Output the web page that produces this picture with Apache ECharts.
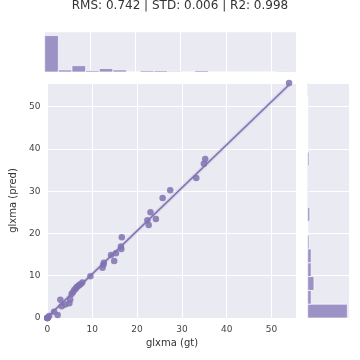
<!DOCTYPE html>
<html>
<head>
<meta charset="utf-8">
<script src="https://cdn.jsdelivr.net/npm/echarts@6/dist/echarts.min.js"></script>
<style>
  html, body { margin: 0; padding: 0; background: #fff; }
  #main { width: 360px; height: 360px; }
</style>
</head>
<body>
<div id="main"></div>
<script>
// scatter values (gt vs pred)
const gtVals = [0.0, 0.0, 0.0, 0.0, 0.1, 0.4, 1.5, 2.3, 2.9, 3.2, 4.0, 4.9, 5.1, 5.4, 5.7, 6.0, 6.3, 6.5, 6.8, 7.1, 7.4, 7.8, 9.6, 12.3, 12.5, 12.6, 14.2, 14.9, 15.3, 16.4, 16.5, 16.6, 22.3, 22.6, 23.0, 24.2, 25.7, 27.4, 33.2, 34.9, 35.2, 53.9]
const predVals = [0.0, 0.0, 0.0, 0.0, 0.1, 0.5, 1.5, 0.7, 4.3, 2.8, 3.2, 3.5, 4.4, 5.7, 6.1, 6.6, 6.9, 7.3, 7.5, 7.8, 8.0, 8.4, 9.9, 11.9, 12.6, 13.1, 14.9, 13.5, 15.3, 16.9, 16.3, 19.1, 23.1, 22.0, 25.0, 23.4, 28.4, 30.2, 33.1, 36.5, 37.6, 55.6]

// marginal histogram counts
const topBinStart = 0
const topBinWidth = 3.011
const topCounts = [52, 3, 9, 2, 5, 3, 0, 2, 2, 1, 0, 2, 0, 0, 0, 0, 0, 1]
const rightBinStart = 0
const rightBinWidth = 3.27
const rightCounts = [57, 5, 9, 5, 5, 2, 0, 3, 1, 1, 1, 2, 0, 0, 0, 0, 1]

// fitted line
const fitSlope = 1.02
const fitIntercept = 0.2

const axisMax = 55.6
const tickStep = 10
const title = 'RMS: 0.742 | STD: 0.006 | R2: 0.998'

const purple = '#8172b2'
const barColor = '#9c92c5'
const bg = '#eaeaf2'
const textColor = '#333'

const points = gtVals.map((v, i) => [v, predVals[i]])
const xLo = Math.min(...gtVals)
const xHi = Math.max(...gtVals)
const fitLine = [[xLo, fitSlope * xLo + fitIntercept], [xHi, fitSlope * xHi + fitIntercept]]

const topBins = topCounts.map((c, i) => [topBinStart + i * topBinWidth, topBinStart + (i + 1) * topBinWidth, c])
const rightBins = rightCounts.map((c, i) => [rightBinStart + i * rightBinWidth, rightBinStart + (i + 1) * rightBinWidth, c])

const labelStyle = { color: '#444', fontSize: 9, fontFamily: 'DejaVu Sans' }
const nameStyle = { color: textColor, fontSize: 10, fontFamily: 'DejaVu Sans' }

function valueAxis(idx, extra) {
  return Object.assign({
    gridIndex: idx,
    type: 'value',
    axisLine: { show: false },
    axisTick: { show: false },
    splitLine: { show: true, lineStyle: { color: '#fff', width: 1 } },
    axisLabel: { show: false }
  }, extra)
}

const option = {
  backgroundColor: '#fff',
  animation: false,
  title: {
    text: title,
    left: 'center',
    top: 0,
    padding: 0,
    textStyle: { color: textColor, fontSize: 12, fontWeight: 'normal', fontFamily: 'DejaVu Sans' }
  },
  grid: [
    { left: 44.7, top: 83, width: 252, height: 235, show: true, backgroundColor: bg, borderWidth: 0 },
    { left: 44.7, top: 32.3, width: 252, height: 39.7, show: true, backgroundColor: bg, borderWidth: 0 },
    { left: 307.7, top: 83, width: 41.3, height: 235, show: true, backgroundColor: bg, borderWidth: 0 }
  ],
  xAxis: [
    valueAxis(0, {
      min: 0, max: axisMax, interval: tickStep,
      name: 'glxma (gt)', nameLocation: 'middle', nameGap: 19,
      nameTextStyle: nameStyle,
      axisLabel: Object.assign({ show: true, margin: 7, showMaxLabel: false }, labelStyle)
    }),
    valueAxis(1, { min: 0, max: axisMax, interval: tickStep }),
    valueAxis(2, { min: 0, max: 59.4, splitLine: { show: false } })
  ],
  yAxis: [
    valueAxis(0, {
      min: 0, max: axisMax, interval: tickStep,
      name: 'glxma (pred)', nameLocation: 'middle', nameGap: 21,
      nameTextStyle: nameStyle,
      axisLabel: Object.assign({ show: true, margin: 7, showMaxLabel: false }, labelStyle)
    }),
    valueAxis(1, { min: 0, max: 56.7, splitLine: { show: false } }),
    valueAxis(2, { min: 0, max: axisMax, interval: tickStep })
  ],
  series: [
    {
      type: 'custom',
      xAxisIndex: 1, yAxisIndex: 1,
      data: topBins,
      renderItem: function (params, api) {
        const p0 = api.coord([api.value(0), 0])
        const p1 = api.coord([api.value(1), api.value(2)])
        return {
          type: 'rect',
          shape: { x: p0[0], y: p1[1], width: p1[0] - p0[0], height: p0[1] - p1[1] },
          style: { fill: barColor, stroke: 'rgba(255,255,255,0.85)', lineWidth: 0.8 }
        }
      }
    },
    {
      type: 'custom',
      xAxisIndex: 2, yAxisIndex: 2,
      data: rightBins,
      renderItem: function (params, api) {
        const p0 = api.coord([0, api.value(0)])
        const p1 = api.coord([api.value(2), api.value(1)])
        return {
          type: 'rect',
          shape: { x: p0[0], y: p1[1], width: p1[0] - p0[0], height: p0[1] - p1[1] },
          style: { fill: barColor, stroke: 'rgba(255,255,255,0.85)', lineWidth: 0.8 }
        }
      }
    },
    {
      type: 'scatter',
      xAxisIndex: 0, yAxisIndex: 0,
      data: points,
      symbolSize: 6.5,
      itemStyle: { color: purple, opacity: 0.85 }
    },
    {
      // faint confidence band
      type: 'line',
      xAxisIndex: 0, yAxisIndex: 0,
      data: fitLine,
      symbol: 'none',
      lineStyle: { color: purple, width: 4, opacity: 0.15 }
    },
    {
      type: 'line',
      xAxisIndex: 0, yAxisIndex: 0,
      data: fitLine,
      symbol: 'none',
      lineStyle: { color: purple, width: 1.6 }
    }
  ]
}

const chart = echarts.init(document.getElementById('main'))
chart.setOption(option)
</script>
</body>
</html>
